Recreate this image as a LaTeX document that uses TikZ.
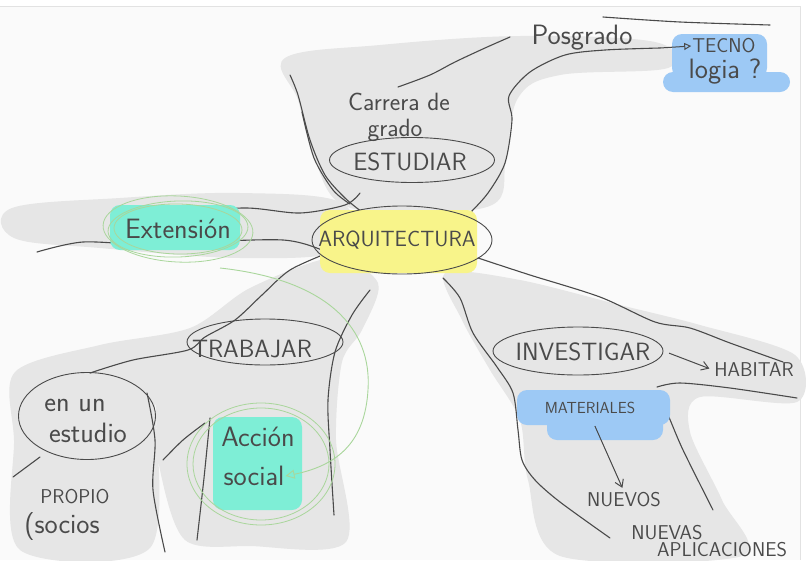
\documentclass[tikz,border=0pt]{standalone}
\usetikzlibrary{shapes.geometric,arrows.meta}

\definecolor{ink}{HTML}{4A4A4A}
\definecolor{bandgray}{HTML}{E6E6E6}
\definecolor{paper}{HTML}{FAFAFA}
\definecolor{framegray}{HTML}{E2E2E2}
\definecolor{hiyellow}{HTML}{F8F48A}
\definecolor{hiteal}{HTML}{7EEED6}
\definecolor{hiblue}{HTML}{9DC9F5}
\definecolor{ringgreen}{HTML}{A9D69B}

\begin{document}
\begin{tikzpicture}[x=1pt,y=-1pt,
	every node/.style={text=ink, inner sep=1pt},
	big/.style={font=\sffamily\fontsize{25}{27}\selectfont},
	small/.style={font=\sffamily\fontsize{20}{22}\selectfont},
	hand/.style={font=\sffamily\fontsize{28}{28}\selectfont},
	branch/.style={draw=ink, line width=1.1pt, line cap=round, line join=round},
	band/.style={fill=bandgray},
	bubble/.style={ellipse, draw=ink, line width=0.9pt, inner sep=0pt},
	hilite/.style={fill=#1, rounded corners=10pt},
	ring/.style={draw=ringgreen, line width=0.8pt},
	arr/.style={draw=ink, line width=1pt, -{Straight Barb[length=7pt,width=9pt]}}]
	
	\useasboundingbox (0,0) rectangle (806,560);
	\fill[white] (0,0) rectangle (806,560);
	\fill[paper] (0,6) rectangle (800,560);
	\draw[framegray] (0,6) -- (800,6) -- (800,560);
	
	% grey bands
	\fill[band] plot[smooth cycle, tension=0.6] coordinates {(285,58) (380,45) (520,36) (655,42) (668,68) (560,75) (518,98) (506,160) (492,205) (400,212) (338,202) (312,150) (298,100)};
	\fill[band] plot[smooth cycle, tension=0.6] coordinates {(12,208) (120,198) (240,193) (342,203) (342,250) (240,258) (100,248) (14,238)};
	\fill[band] plot[smooth cycle, tension=0.5] coordinates {(332,258) (378,283) (362,330) (342,362) (336,440) (346,542) (250,546) (185,540) (160,470) (155,405) (150,548) (20,550) (14,440) (15,372) (100,345) (190,328) (250,288)};
	\fill[band] plot[smooth cycle, tension=0.5] coordinates {(445,273) (520,280) (620,305) (700,325) (795,355) (797,402) (700,397) (690,432) (722,500) (742,556) (560,556) (528,480) (520,420) (490,370) (462,320)};
	
	% branches
	\draw[branch] plot[smooth] coordinates {(290,75) (298,95) (310,140) (325,175) (345,198) (362,212)};
	\draw[branch] plot[smooth] coordinates {(302,112) (314,158) (333,190) (350,204)};
	\draw[branch] plot[smooth] coordinates {(398,87) (430,75) (455,62) (485,48) (510,37)};
	\draw[branch] plot[smooth] coordinates {(603,17) (680,22) (770,25)};
	\draw[branch] plot[smooth] coordinates {(470,213) (488,193) (505,163) (512,120) (509,96) (530,72) (565,55) (605,50) (660,48)};
	\coordinate (pgend) at (660,48);
	\draw[branch] plot[smooth] coordinates {(122,207) (180,211) (247,208) (300,213) (345,205) (360,193)};
	\draw[branch] plot[smooth] coordinates {(37,252) (83,242) (150,245) (200,242) (283,240) (322,250) (335,260)};
	\draw[branch] plot[smooth] coordinates {(330,252) (290,270) (262,295) (235,320) (205,337) (188,350) (133,360) (90,373)};
	\draw[branch] plot[smooth] coordinates {(370,290) (352,315) (335,352) (328,400) (330,450) (334,515)};
	\draw[branch] plot[smooth] coordinates {(147,393) (155,440) (153,490) (165,552)};
	\draw[branch] plot[smooth] coordinates {(210,418) (204,478) (197,540)};
	\draw[branch] plot[smooth] coordinates {(163,460) (183,440) (205,423)};
	\draw[branch] (13,477) -- (40,457);
	\draw[branch] plot[smooth] coordinates {(443,278) (460,298) (473,333) (497,367) (513,393) (518,430) (522,460) (535,480) (560,502) (610,538)};
	\draw[branch] plot[smooth] coordinates {(478,258) (530,275) (600,297) (655,322) (690,328) (730,343) (783,362)};
	\draw[branch] plot[smooth] coordinates {(657,387) (680,383) (730,388) (797,398)};
	\draw[branch] plot[smooth] coordinates {(657,393) (668,415) (683,450) (713,510)};
	
	% highlights
	\fill[hilite=hiyellow] (320,210) rectangle (477,273);
	\fill[hilite=hiteal] (110,205) rectangle (240,250);
	\fill[hilite=hiblue] (672,34) rectangle (767,78);
	\fill[hilite=hiblue] (663,72) rectangle (790,92);
	\fill[hilite=hiteal] (213,417) rectangle (302,510);
	\fill[hilite=hiblue] (517,390) rectangle (670,425);
	\fill[hilite=hiblue] (547,415) rectangle (663,440);
	
	% green rings
	\foreach \w/\h/\r in {150/66/-3, 140/56/2, 128/50/-1}
	\draw[ring] (178,229) ellipse [x radius=\w/2, y radius=\h/2, rotate=\r];
	\foreach \w/\h in {148/122, 136/112}
	\draw[ring] (261,464) ellipse [x radius=\w/2, y radius=\h/2];
	
	% bubbles
	\node[bubble, minimum width=180pt, minimum height=68pt] (arq) at (402,240) {};
	\node[bubble, minimum width=165pt, minimum height=45pt] (estudiar) at (412,160) {};
	\node[bubble, minimum width=156pt, minimum height=46pt] (trabajar) at (265,342) {};
	\node[bubble, minimum width=170pt, minimum height=48pt] (investigar) at (578,351) {};
	\node[bubble, minimum width=137pt, minimum height=87pt] (estudio) at (87,416) {};
	
	% texts
	\node[font=\sffamily\fontsize{22}{24}\selectfont] (arqtxt) at (397,240) {ARQUITECTURA};
	\node[big] (esttxt) at (410,162) {ESTUDIAR};
	\node[big] (trabtxt) at (252,349) {TRABAJAR};
	\node[big] (invtxt) at (583,352) {INVESTIGAR};
	\node[font=\sffamily\fontsize{25}{25}\selectfont] (carrera) at (399,102) {Carrera de};
	\node[font=\sffamily\fontsize{25}{25}\selectfont] (grado) at (395,130) {grado};
	\node[hand] (posgrado) at (582,38) {Posgrado};
	\node[small] (tecno) at (724,46) {TECNO};
	\node[hand] (logia) at (725,72) {logia ?};
	\node[hand] (extension) at (178,229) {Extensión};
	\node[hand] (enun) at (75,405) {en un};
	\node[hand] (estudiotxt) at (88,433) {estudio};
	\node[small] (propio) at (75,497) {PROPIO};
	\node[hand] (socios) at (62,527) {(socios};
	\node[hand] (accion) at (258,437) {Acción};
	\node[hand] (social) at (254,476) {social};
	\node[small] (habitar) at (754,370) {HABITAR};
	\node[font=\sffamily\fontsize{16}{18}\selectfont] (materiales) at (590,408) {MATERIALES};
	\node[small] (nuevos) at (624,500) {NUEVOS};
	\node[small] (nuevas) at (667,533) {NUEVAS};
	\node[small] (aplic) at (722,550) {APLICACIONES};
	
	% arrows
	\draw[draw=ink, line width=1pt, -{Triangle[open,length=7pt,width=7pt]}] (pgend) -- (tecno.west);
	\draw[arr, shorten <=6pt, shorten >=4pt] (investigar.east) -- (habitar.west);
	\draw[arr, shorten <=12pt, shorten >=4pt] (materiales.south) -- (nuevos.north);
	\coordinate (greenstart) at (220,268);
	\draw[draw=ringgreen, line width=0.9pt, -{Triangle[open,length=9pt,width=9pt]}] (greenstart) .. controls (330,280) and (372,330) .. (368,390) .. controls (365,440) and (340,465) .. (social.east);
	
\end{tikzpicture}
\end{document}
